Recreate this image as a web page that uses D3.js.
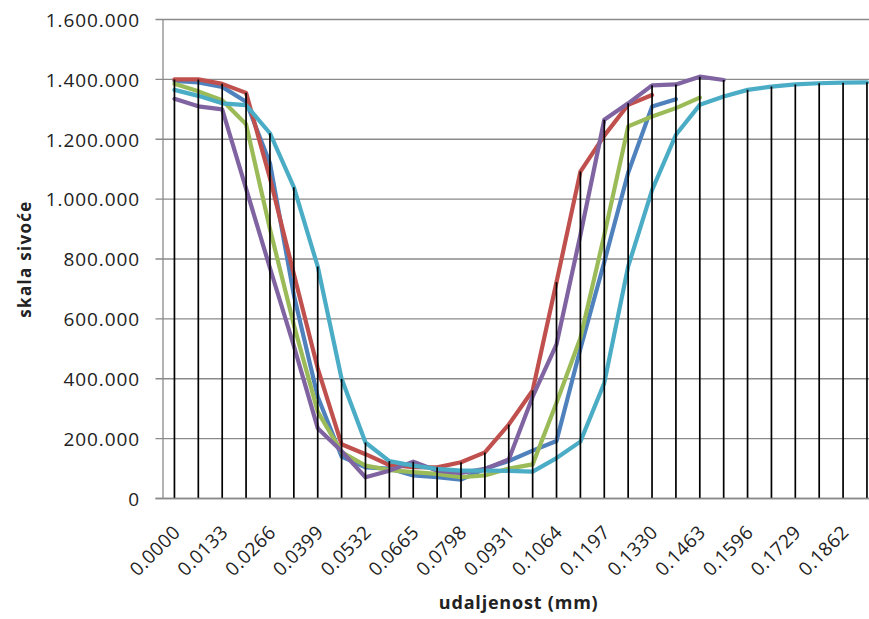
<!DOCTYPE html>
<html>
<head>
<meta charset="utf-8">
<script src="https://cdn.jsdelivr.net/npm/d3@7/dist/d3.min.js"></script>
<style>
  html, body { margin: 0; padding: 0; background: #ffffff; }
  svg { display: block; }
</style>
</head>
<body>
<svg id="chart" width="869" height="619"></svg>
<script>
// ---- data ----
const categories = [0.0000, 0.00665, 0.0133, 0.01995, 0.0266, 0.03325, 0.0399, 0.04655, 0.0532, 0.05985,
  0.0665, 0.07315, 0.0798, 0.08645, 0.0931, 0.09975, 0.1064, 0.11305, 0.1197, 0.12635,
  0.1330, 0.13965, 0.1463, 0.15295, 0.1596, 0.16625, 0.1729, 0.17955, 0.1862, 0.19285];

const blueValues = [1395000, 1390000, 1375000, 1325000, 1120000, 680000, 340000, 140000, 104000, 100000,
  77000, 71000, 63000, 99000, 125000, 160000, 192000, 500000, 790000, 1088000, 1309000, 1334000];
const redValues = [1400000, 1400000, 1385000, 1355000, 1070000, 750000, 435000, 181000, 148000, 112000,
  105000, 104000, 121000, 154000, 247000, 361000, 723000, 1092000, 1212000, 1315000, 1348000];
const greenValues = [1385000, 1360000, 1330000, 1250000, 900000, 580000, 290000, 155000, 110000, 95000,
  88000, 82000, 71000, 77000, 100000, 114000, 320000, 536000, 880000, 1243000, 1276000, 1304000, 1339000];
const purpleValues = [1335000, 1310000, 1300000, 1035000, 770000, 510000, 235000, 158000, 71000, 93000,
  123000, 93000, 85000, 99000, 130000, 340000, 515000, 880000, 1265000, 1320000, 1380000, 1383000, 1409000, 1398000];
const cyanValues = [1365000, 1345000, 1320000, 1314000, 1220000, 1040000, 775000, 400000, 187000, 125000,
  110000, 99000, 93000, 93000, 92000, 90000, 135000, 190000, 386000, 775000, 1030000, 1215000, 1315000, 1343000,
  1365000, 1376000, 1383000, 1387000, 1389000, 1390000];

const yTicks = [0, 200000, 400000, 600000, 800000, 1000000, 1200000, 1400000, 1600000];
const xTickLabels = ["0.0000", "0.0133", "0.0266", "0.0399", "0.0532", "0.0665", "0.0798", "0.0931",
  "0.1064", "0.1197", "0.1330", "0.1463", "0.1596", "0.1729", "0.1862"];

const seriesList = [
  { name: "Series1", values: blueValues,   color: "#4F81BD" },
  { name: "Series2", values: redValues,    color: "#C0504D" },
  { name: "Series3", values: greenValues,  color: "#9BBB59" },
  { name: "Series4", values: purpleValues, color: "#8064A2" },
  { name: "Series5", values: cyanValues,   color: "#4BACC6" }
];

const yTitle = "skala sivoće";
const xTitle = "udaljenost (mm)";

// ---- layout ----
const plot = { left: 162.5, top: 19.5, bottom: 498.5, step: 23.88 };
plot.right = plot.left + plot.step * categories.length;

const svg = d3.select("#chart");
const fmtCat = d3.format(".4f");
const locale = d3.formatLocale({ decimal: ",", thousands: ".", grouping: [3], currency: ["", ""] });
const fmtY = locale.format(",.0f");

const x = d3.scaleBand().domain(categories.map(fmtCat)).range([plot.left, plot.right]).padding(0);
const cx = c => x(fmtCat(c)) + x.bandwidth() / 2;
const y = d3.scaleLinear().domain([0, 1600000]).range([plot.bottom, plot.top]);

const fontFamily = "'Open Sans', 'DejaVu Sans', sans-serif";
const gridColor = "#8a8a8a";

// gridlines + y axis
const yAxis = d3.axisLeft(y).tickValues(yTicks).tickFormat(fmtY).tickSize(0).tickPadding(0);
const gGrid = svg.append("g");
gGrid.selectAll("line").data(yTicks).join("line")
  .attr("x1", plot.left - 7).attr("x2", plot.right)
  .attr("y1", d => y(d)).attr("y2", d => y(d))
  .attr("stroke", gridColor).attr("stroke-width", 1.3);

const gy = svg.append("g").attr("transform", `translate(${plot.left},0)`).call(yAxis);
gy.select(".domain").attr("stroke", gridColor).attr("stroke-width", 1.3);
gy.selectAll("text")
  .attr("x", 140 - plot.left)
  .attr("dy", "0.36em")
  .attr("fill", "#222")
  .style("font-family", fontFamily)
  .style("font-size", "19px")
  .style("letter-spacing", "0.9px");

// series lines
const line = d3.line().x((d, i) => cx(categories[i])).y(d => y(d));
svg.append("g").selectAll("path").data(seriesList).join("path")
  .attr("d", s => line(s.values))
  .attr("fill", "none")
  .attr("stroke", s => s.color)
  .attr("stroke-width", 4.2)
  .attr("stroke-linejoin", "round")
  .attr("stroke-linecap", "round");

// drop lines (from highest point at each category down to the axis)
const maxAt = categories.map((c, i) => d3.max(seriesList, s => s.values[i]));
svg.append("g").selectAll("line").data(categories).join("line")
  .attr("x1", c => cx(c)).attr("x2", c => cx(c))
  .attr("y1", (c, i) => y(maxAt[i])).attr("y2", y(0))
  .attr("stroke", "#000").attr("stroke-width", 1.7);

// x axis
const xAxis = d3.axisBottom(x)
  .tickValues(xTickLabels)
  .tickSize(0).tickPadding(0);
const gx = svg.append("g").attr("transform", `translate(0,${plot.bottom})`).call(xAxis);
gx.select(".domain").remove();
svg.append("line").attr("x1", plot.left - 7).attr("x2", plot.right)
  .attr("y1", y(0)).attr("y2", y(0)).attr("stroke", gridColor).attr("stroke-width", 1.3);
gx.selectAll(".tick text")
  .attr("text-anchor", "end")
  .attr("y", 0).attr("dy", 0)
  .attr("transform", "translate(7,35) rotate(-45)")
  .attr("fill", "#222")
  .style("font-family", fontFamily)
  .style("font-size", "19px")
  .style("letter-spacing", "0.4px");

// titles
svg.append("text")
  .attr("transform", `translate(31,${(plot.top + plot.bottom) / 2}) rotate(-90)`)
  .attr("text-anchor", "middle")
  .attr("fill", "#222")
  .style("font-family", fontFamily)
  .style("font-weight", "bold")
  .style("font-size", "17px")
  .style("letter-spacing", "1.3px")
  .text(yTitle);

svg.append("text")
  .attr("x", (plot.left + plot.right) / 2 - 2)
  .attr("y", 609)
  .attr("text-anchor", "middle")
  .attr("fill", "#222")
  .style("font-family", fontFamily)
  .style("font-weight", "bold")
  .style("font-size", "18px")
  .style("letter-spacing", "0.8px")
  .text(xTitle);
</script>
</body>
</html>
